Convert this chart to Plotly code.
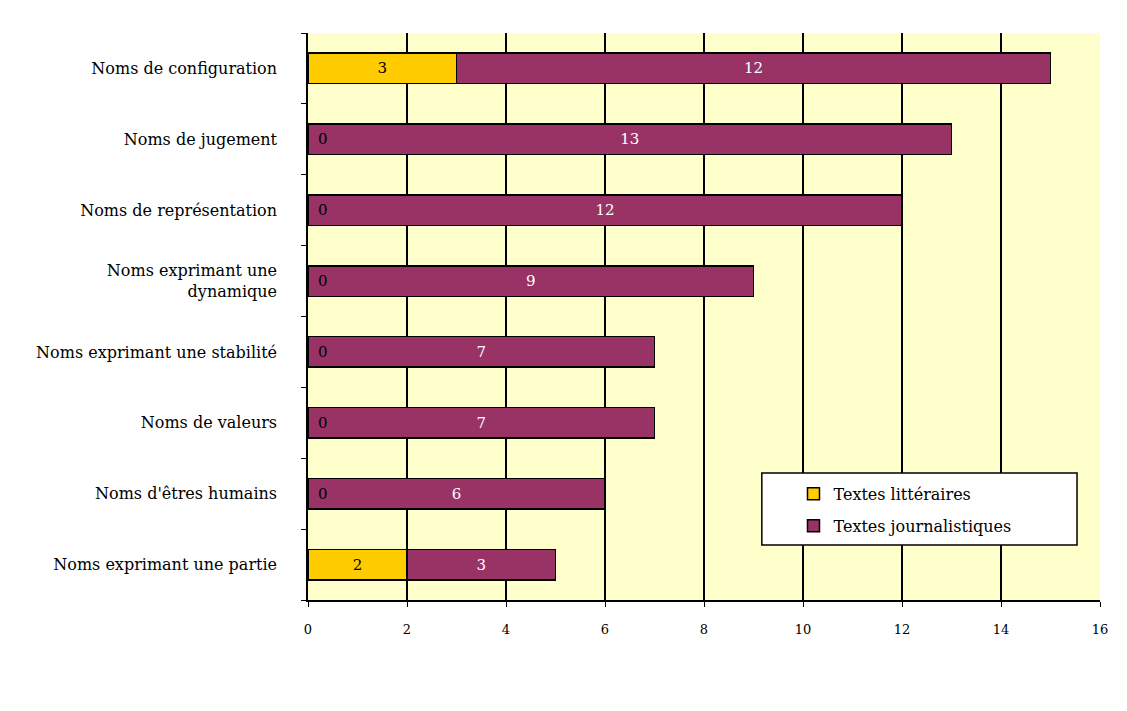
import plotly.graph_objects as go

categories = [
    "Noms de configuration",
    "Noms de jugement",
    "Noms de représentation",
    "Noms exprimant une<br>dynamique",
    "Noms exprimant une stabilité",
    "Noms de valeurs",
    "Noms d'êtres humains",
    "Noms exprimant une partie",
]
litteraires = [3, 0, 0, 0, 0, 0, 0, 2]
journalistiques = [12, 13, 12, 9, 7, 7, 6, 3]
x_ticks = [0, 2, 4, 6, 8, 10, 12, 14, 16]

FONT = "DejaVu Serif, Liberation Serif, serif"

fig = go.Figure()
fig.add_trace(go.Bar(
    y=categories, x=litteraires, orientation="h", name="Textes littéraires",
    legendgroup="a",
    marker=dict(color="#FFCC00", line=dict(color="black", width=1.5)),
    text=[str(v) if v else "" for v in litteraires], textposition="inside",
    insidetextanchor="middle", textfont=dict(color="black", size=15, family=FONT),
))
fig.add_trace(go.Bar(
    y=categories, x=journalistiques, orientation="h", name="Textes journalistiques",
    legendgroup="b",
    marker=dict(color="#993366", line=dict(color="black", width=1.5)),
    text=[str(v) for v in journalistiques], textposition="inside",
    insidetextanchor="middle", textfont=dict(color="white", size=15, family=FONT),
))

# zero values of the first series are shown as a small label at the axis
for cat, v in zip(categories, litteraires):
    if v == 0:
        fig.add_annotation(x=0, y=cat, text="0", showarrow=False, xanchor="left",
                           xshift=8, font=dict(color="black", size=15, family=FONT))

# legend frame
fig.add_shape(type="rect", xref="paper", yref="paper", x0=0.573, x1=0.971, y0=0.097, y1=0.224,
              fillcolor="white", line=dict(color="black", width=1.5), layer="above")

fig.update_layout(
    barmode="stack",
    bargap=0.57,
    width=1127, height=711,
    margin=dict(l=300, r=35, t=25, b=119),
    paper_bgcolor="white",
    plot_bgcolor="#FFFFCC",
    font=dict(family=FONT, size=16, color="black"),
    showlegend=True,
    legend=dict(
        x=0.613, y=0.217, xanchor="left", yanchor="top",
        bgcolor="rgba(0,0,0,0)", borderwidth=0,
        font=dict(size=16, family=FONT), traceorder="grouped",
        itemwidth=30, tracegroupgap=8,
    ),
    xaxis=dict(
        range=[0, 16], tickvals=x_ticks, showgrid=True, gridcolor="black", gridwidth=1.5,
        zeroline=False, showline=True, linecolor="black", linewidth=1.5,
        ticks="outside", ticklen=5, tickcolor="black", tickfont=dict(size=13),
        ticklabelstandoff=12, fixedrange=True,
    ),
    yaxis=dict(
        categoryorder="array", categoryarray=categories[::-1],
        showline=True, linecolor="black", linewidth=1.5,
        ticks="outside", ticklen=5, tickcolor="black", tickson="boundaries",
        showgrid=False, tickfont=dict(size=16), ticklabelstandoff=26,
    ),
)

fig.write_html("out.html")
